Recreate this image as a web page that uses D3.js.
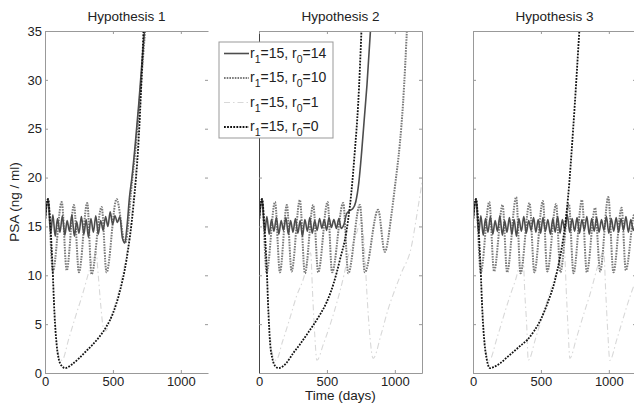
<!DOCTYPE html>
<html>
<head>
<meta charset="utf-8">
<script src="https://cdn.jsdelivr.net/npm/d3@7"></script>
<style>
  body { margin: 0; background: #fff; }
  svg { font-family: "Liberation Sans", Arial, Helvetica, sans-serif; }
  .axis path, .axis line { stroke: #999; }
  .axis text { fill: #222; font-size: 13px; }
</style>
</head>
<body>
<svg id="chart" width="634" height="405"></svg>
<script>
// panel titles, ticks, legend
const TITLES = ['Hypothesis 1', 'Hypothesis 2', 'Hypothesis 3'];
const X_TICKS = [0, 500, 1000];
const Y_TICKS = [0, 5, 10, 15, 20, 25, 30, 35];
const R1 = [15, 15, 15, 15];
const R0 = [14, 10, 1, 0];

// PSA curves, [time (days), PSA (ng/ml)]
// Hypothesis 1
const h1_r14 = [[0,15.5],[22,17.8],[42,14.3],[58,16.2],[75,14.0],[92,15.8],[110,14.4],[128,16.1],[146,14.1],[163,15.6],[180,14.5],[198,16.2],[216,14.0],[233,15.5],[250,14.3],[268,16.0],[286,14.2],[303,15.7],[320,13.9],[338,15.8],[356,14.4],[374,16.1],[392,14.2],[410,15.6],[428,14.6],[446,16.0],[463,15.0],[480,16.5],[498,15.2],[515,16.1],[533,15.4],[551,16.0],[570,13.8],[588,13.3],[605,15.2],[622,18.0],[640,20.0],[665,23.5],[690,27.5],[715,32],[738,36]];
const h1_r10 = [[0,15.5],[22,17.8],[58,10.4],[123,17.5],[160,10.5],[213,17.2],[250,10.3],[311,17.4],[343,10.1],[417,17.0],[453,10.3],[527,17.8],[590,13.3],[640,19.5],[670,23.5],[700,28.5],[742,36]];
const h1_r1 = [[0,15.5],[22,17.8],[40,15],[55,11],[70,6.5],[85,3.5],[105,1.6],[125,1.3],[175,3.5],[225,5.8],[275,8],[320,10.2],[355,11.8],[375,12.4],[392,10],[410,7],[430,4.6],[445,4.3],[500,6.3],[560,9.4],[620,14],[670,21],[705,28],[735,36]];
const h1_r0 = [[0,15.5],[22,17.8],[40,15],[55,11],[70,6],[85,3],[100,1.5],[125,0.7],[150,0.5],[200,0.9],[250,1.5],[300,2.2],[350,2.9],[400,3.7],[450,4.7],[500,6.1],[550,8.3],[600,11.6],[650,17],[690,24],[728,36]];
// Hypothesis 2
const h2_r14 = [[0,15.5],[22,17.8],[42,14.4],[58,16.0],[75,14.2],[92,15.7],[110,14.5],[128,15.9],[146,14.2],[163,15.6],[180,14.6],[198,15.9],[216,14.2],[233,15.6],[250,14.4],[268,15.8],[286,14.3],[303,15.6],[320,14.0],[338,15.7],[356,14.5],[374,15.9],[392,14.3],[410,15.6],[428,14.6],[446,15.8],[463,14.8],[480,15.7],[498,14.6],[515,15.9],[533,14.9],[551,15.7],[570,14.8],[588,15.8],[605,14.8],[625,15.2],[645,16.3],[665,16.6],[690,16.8],[712,17.5],[735,19.5],[755,22.5],[775,26],[795,29.5],[825,36]];
const h2_r10 = [[0,15.5],[22,17.8],[56,10.3],[118,17.5],[154,10.3],[205,17.2],[240,10.4],[301,17.7],[338,10.2],[399,17.2],[436,10.3],[505,17.5],[538,10.3],[620,17.4],[657,10.2],[743,17.2],[779,10.3],[877,16.7],[926,12.4],[975,16.2],[1000,19],[1037,23.5],[1060,27.5],[1092,36]];
const h2_r1 = [[0,15.5],[22,17.8],[40,15],[55,11],[70,6.5],[85,3.5],[105,1.6],[125,1.3],[175,3.3],[225,5.5],[275,7.8],[338,10.2],[365,12],[380,12.3],[395,8],[410,4],[426,1.3],[475,3],[525,5],[575,7.3],[625,10],[650,11.6],[700,13.5],[755,15.5],[775,13],[795,8],[815,4],[840,1.5],[900,4],[950,6.5],[1000,8.5],[1050,10.3],[1123,13],[1160,16],[1200,19.5]];
const h2_r0 = [[0,15.5],[22,17.8],[40,15],[56,11],[70,6],[81,3.2],[100,1.4],[120,0.7],[145,0.5],[200,1.0],[250,2.0],[300,2.9],[350,3.9],[400,4.9],[450,6.0],[500,7.3],[550,9.2],[596,11.6],[645,14.6],[680,18.5],[706,22.8],[730,27.5],[757,36]];
// Hypothesis 3
const h3_r14 = [[0,15.5],[22,17.8],[42,14.3],[58,16.1],[75,14.1],[92,15.8],[110,14.4],[128,16.0],[146,14.2],[163,15.6],[180,14.5],[198,16.1],[216,14.1],[233,15.6],[250,14.4],[268,15.9],[286,14.2],[303,15.7],[320,14.0],[338,15.8],[356,14.5],[374,16.0],[392,14.3],[410,15.6],[428,14.6],[446,15.9],[463,14.4],[480,15.7],[498,14.3],[515,15.9],[533,14.5],[551,15.7],[570,14.2],[588,15.8],[605,14.4],[623,16.0],[641,14.3],[658,15.7],[676,14.6],[694,16.2],[712,14.4],[730,15.8],[748,14.5],[766,15.9],[784,14.3],[802,15.7],[820,14.6],[838,16.0],[856,14.2],[874,15.8],[892,14.5],[910,15.9],[928,14.4],[946,15.7],[964,14.6],[982,16.0],[1000,14.3],[1018,15.8],[1036,14.5],[1054,15.9],[1072,14.4],[1090,15.8],[1108,14.6],[1126,16.0],[1144,14.4],[1162,15.7],[1180,14.6],[1200,15.9]];
const h3_r10 = [[0,15.5],[22,17.8],[57,10.3],[120,17.5],[155,10.4],[218,17.2],[251,10.3],[318,18.0],[350,10.2],[416,17.4],[452,10.3],[514,17.6],[547,10.4],[612,17.3],[643,10.3],[706,17.3],[740,10.2],[802,17.7],[838,10.3],[899,16.9],[936,10.4],[996,18.0],[1034,10.3],[1094,16.9],[1125,10.5],[1190,16.3],[1200,15.6]];
const h3_r1 = [[0,15.5],[22,17.8],[40,15],[55,11],[70,6.5],[85,3.5],[105,1.6],[120,1.3],[175,3.5],[225,5.8],[275,8],[321,9.9],[350,11.5],[368,12],[382,8],[395,5],[407,1.3],[460,3.5],[510,5.8],[560,8],[610,10.2],[650,12],[672,12.5],[688,8],[700,4.5],[713,1.5],[760,3.5],[810,5.8],[860,8],[934,11.6],[962,12.5],[978,8],[993,4],[1007,1.3],[1060,3.5],[1110,5.8],[1160,8],[1200,9.5]];
const h3_r0 = [[0,15.5],[22,17.8],[40,15],[55,11],[70,6],[85,3],[100,1.5],[125,0.5],[150,0.6],[200,1.0],[250,1.6],[300,2.2],[350,2.8],[400,3.4],[450,4.3],[500,5.5],[550,7.2],[600,9.3],[640,11.8],[670,14.3],[700,18],[737,24.9],[787,36]];

const SERIES = [
  [h1_r14, h1_r10, h1_r1, h1_r0],
  [h2_r14, h2_r10, h2_r1, h2_r0],
  [h3_r14, h3_r10, h3_r1, h3_r0],
];

// line styles, in legend order (r0 = 14, 10, 1, 0)
const STYLES = [
  { stroke: '#4d4d4d', width: 1.6, dash: null },
  { stroke: '#7a7a7a', width: 2,   dash: '1.6,1.1' },
  { stroke: '#d8d8d8', width: 1.1, dash: '6,3,1.5,3' },
  { stroke: '#111',    width: 1.8, dash: '1.8,1.3' },
];
const DRAW_ORDER = [2, 1, 0, 3];

const PANEL_X = [45, 259, 473];
const PANEL_W = 163;
const TOP = 31, BOTTOM = 373;
const PH = BOTTOM - TOP;

const svg = d3.select('#chart');

const x = d3.scaleLinear().domain([0, 1200]).range([0, PANEL_W]);
const y = d3.scaleLinear().domain([0, 35]).range([PH, 0]);

const line = d3.line()
  .x(d => x(d[0]))
  .y(d => y(d[1]))
  .curve(d3.curveMonotoneX);

TITLES.forEach((title, i) => {
  const g = svg.append('g').attr('transform', `translate(${PANEL_X[i]},${TOP})`);

  g.append('defs').append('clipPath')
    .attr('id', `clip-${i}`)
    .append('rect')
    .attr('width', PANEL_W).attr('height', PH);

  // curves
  const plot = g.append('g').attr('clip-path', `url(#clip-${i})`);
  DRAW_ORDER.forEach(k => {
    const st = STYLES[k];
    plot.append('path')
      .datum(SERIES[i][k])
      .attr('d', line)
      .attr('fill', 'none')
      .attr('stroke', st.stroke)
      .attr('stroke-width', st.width)
      .attr('stroke-dasharray', st.dash);
  });

  // axes, ticks pointing inward
  g.append('g').attr('class', 'axis')
    .attr('transform', `translate(0,${PH})`)
    .call(d3.axisBottom(x).tickValues(X_TICKS).tickSizeInner(-3).tickSizeOuter(0).tickPadding(4)
      .tickFormat(d3.format('d')));

  const left = g.append('g').attr('class', 'axis')
    .call(d3.axisLeft(y).tickValues(Y_TICKS).tickSizeInner(-3).tickSizeOuter(0).tickPadding(3)
      .tickFormat(i === 0 ? d3.format('d') : ''));
  if (i === 1) left.select('.domain').style('stroke', '#444');

  g.append('g').attr('class', 'axis')
    .call(d3.axisTop(x).tickValues(X_TICKS).tickSizeInner(-3).tickSizeOuter(0).tickFormat(''));

  const right = g.append('g').attr('class', 'axis')
    .attr('transform', `translate(${PANEL_W},0)`)
    .call(d3.axisRight(y).tickValues(Y_TICKS).tickSizeInner(-3).tickSizeOuter(0).tickFormat(''));
  if (i === 0) right.select('.domain').remove();

  g.append('text')
    .attr('x', PANEL_W / 2)
    .attr('y', -10)
    .attr('text-anchor', 'middle')
    .attr('font-size', '13.5px')
    .attr('fill', '#222')
    .text(title);
});

// axis titles
svg.append('text')
  .attr('transform', `translate(19,${(TOP + BOTTOM) / 2}) rotate(-90)`)
  .attr('text-anchor', 'middle')
  .attr('font-size', '13.5px')
  .attr('fill', '#222')
  .text('PSA (ng / ml)');

svg.append('text')
  .attr('x', PANEL_X[1] + PANEL_W / 2)
  .attr('y', 400)
  .attr('text-anchor', 'middle')
  .attr('font-size', '13.5px')
  .attr('fill', '#222')
  .text('Time (days)');

// legend
const leg = svg.append('g').attr('transform', 'translate(219,42)');
leg.append('rect')
  .attr('width', 114).attr('height', 96)
  .attr('fill', '#fff')
  .attr('stroke', '#999');

R0.forEach((r0, k) => {
  const ly = 11.5 + k * 24.5;
  const st = STYLES[k];
  leg.append('line')
    .attr('x1', 5).attr('x2', 30)
    .attr('y1', ly).attr('y2', ly)
    .attr('stroke', st.stroke)
    .attr('stroke-width', st.width)
    .attr('stroke-dasharray', st.dash);

  const t = leg.append('text')
    .attr('x', 31).attr('y', ly + 4)
    .attr('font-size', '14px')
    .attr('fill', '#222');
  t.append('tspan').text('r');
  t.append('tspan').attr('dy', 5).attr('font-size', '10.5px').text('1');
  t.append('tspan').attr('dy', -5).text(`=${R1[k]}, r`);
  t.append('tspan').attr('dy', 5).attr('font-size', '10.5px').text('0');
  t.append('tspan').attr('dy', -5).text(`=${r0}`);
});
</script>
</body>
</html>
